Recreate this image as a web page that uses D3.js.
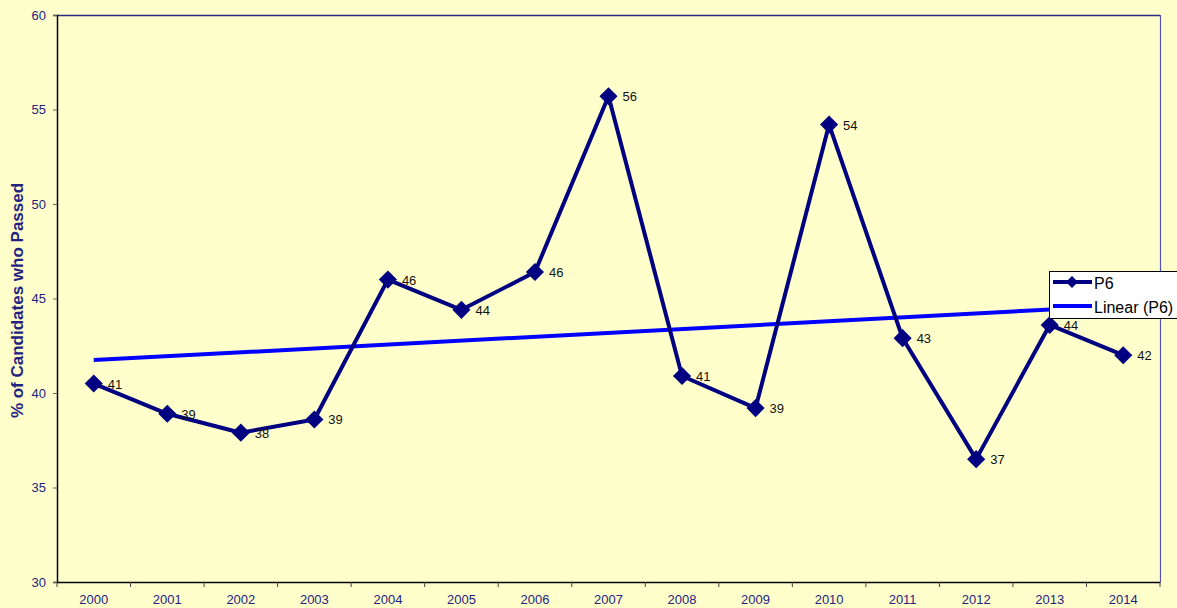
<!DOCTYPE html>
<html>
<head>
<meta charset="utf-8">
<script src="https://cdn.jsdelivr.net/npm/d3@7"></script>
<style>
  body { margin: 0; background: #FFFFCC; }
  svg { display: block; font-family: Arial, "Liberation Sans", sans-serif; }
</style>
</head>
<body>
<div id="chart"></div>
<script>
// data
var years = ["2000","2001","2002","2003","2004","2005","2006","2007","2008","2009","2010","2011","2012","2013","2014"];
var passed = [40.5, 38.9, 37.9, 38.6, 46.0, 44.4, 46.4, 55.7, 40.9, 39.2, 54.2, 42.9, 36.5, 43.6, 42.0];
var pointLabels = ["41","39","38","39","46","44","46","56","41","39","54","43","37","44","42"];
var yTicks = [30, 35, 40, 45, 50, 55, 60];

var W = 1177, H = 608;
var margin = {top: 15, right: 17, bottom: 26, left: 57},
    width = W - margin.left - margin.right,
    height = H - margin.top - margin.bottom;

var navy = "#000080", textNavy = "#23237F";

var svg = d3.select("#chart").append("svg")
    .attr("width", W)
    .attr("height", H)
    .style("background-color", "#FFFFCC");

var g = svg.append("g")
    .attr("transform", "translate(" + margin.left + "," + margin.top + ")");

var x = d3.scaleBand().domain(years).range([0, width]);
var y = d3.scaleLinear().domain([30, 60]).range([height, 0]);
var cx = function(d, i) { return x(years[i]) + x.bandwidth() / 2; };

// plot frame: top and right border
g.append("line").attr("x1", 0).attr("x2", width).attr("y1", 0.5).attr("y2", 0.5)
    .attr("stroke", "#2a2a8a").attr("stroke-width", 1.5);
g.append("line").attr("x1", width + 0.5).attr("x2", width + 0.5).attr("y1", 0).attr("y2", height)
    .attr("stroke", "#5555aa").attr("stroke-width", 1.2);

// y axis
var yAxis = g.append("g")
    .call(d3.axisLeft(y).tickValues(yTicks).tickSize(4).tickPadding(7));
yAxis.select(".domain").attr("stroke", "#000").attr("stroke-width", 1.5);
yAxis.selectAll(".tick line").attr("stroke", "#666");
yAxis.selectAll("text").attr("fill", textNavy).style("font-size", "13px");

// x axis with ticks on band boundaries
var xAxis = g.append("g")
    .attr("transform", "translate(0," + height + ")")
    .call(d3.axisBottom(x).tickSize(0).tickPadding(13));
xAxis.select(".domain").attr("stroke", "#000").attr("stroke-width", 1.5);
xAxis.selectAll("text").attr("fill", textNavy).style("font-size", "13px");
xAxis.selectAll(".bound")
    .data(years.concat(["end"]))
    .enter().append("line")
    .attr("class", "bound")
    .attr("x1", function(d, i) { return i * x.bandwidth(); })
    .attr("x2", function(d, i) { return i * x.bandwidth(); })
    .attr("y1", 0).attr("y2", 5)
    .attr("stroke", "#444");

// axis title
svg.append("text")
    .attr("text-anchor", "middle")
    .attr("transform", "translate(23," + (margin.top + height / 2 + 2) + ")rotate(-90)")
    .attr("fill", textNavy)
    .style("font-size", "17px")
    .style("font-weight", "bold")
    .text("% of Candidates who Passed");

// linear trend (least squares over the series)
var n = passed.length, mx = (n - 1) / 2, my = d3.mean(passed);
var sxy = d3.sum(passed, function(v, i) { return (i - mx) * (v - my); });
var sxx = d3.sum(passed, function(v, i) { return (i - mx) * (i - mx); });
var slope = sxy / sxx, icpt = my - slope * mx;
var trend = [0, n - 1].map(function(i) { return [i, icpt + slope * i]; });

g.append("path")
    .datum(trend)
    .attr("fill", "none")
    .attr("stroke", "#0000FF")
    .attr("stroke-width", 4)
    .attr("d", d3.line()
        .x(function(d) { return x(years[d[0]]) + x.bandwidth() / 2; })
        .y(function(d) { return y(d[1]); }));

// series line
g.append("path")
    .datum(passed)
    .attr("fill", "none")
    .attr("stroke", navy)
    .attr("stroke-width", 4)
    .attr("stroke-linejoin", "round")
    .attr("d", d3.line().x(cx).y(function(d) { return y(d); }));

var diamond = d3.symbol().type(d3.symbolDiamond2).size(210);
g.selectAll(".pt")
    .data(passed)
    .enter().append("path")
    .attr("class", "pt")
    .attr("d", diamond)
    .attr("fill", navy)
    .attr("transform", function(d, i) { return "translate(" + cx(d, i) + "," + y(d) + ")"; });

g.selectAll(".lbl")
    .data(passed)
    .enter().append("text")
    .attr("class", "lbl")
    .attr("x", function(d, i) { return cx(d, i) + 14; })
    .attr("y", function(d) { return y(d) + 5; })
    .attr("fill", "#111")
    .style("font-size", "13px")
    .text(function(d, i) { return pointLabels[i]; });

// legend
var lg = svg.append("g").attr("transform", "translate(1049,271)");
lg.append("rect").attr("x", 0.5).attr("y", 0.5).attr("width", 140).attr("height", 47)
    .attr("fill", "#fff").attr("stroke", "#000").attr("stroke-width", 1);
lg.append("line").attr("x1", 4).attr("x2", 43).attr("y1", 11).attr("y2", 11)
    .attr("stroke", navy).attr("stroke-width", 4);
lg.append("path").attr("d", d3.symbol().type(d3.symbolDiamond2).size(90))
    .attr("fill", navy).attr("transform", "translate(23,11)");
lg.append("text").attr("x", 45).attr("y", 18).style("font-size", "16px").attr("fill", "#000").text("P6");
lg.append("line").attr("x1", 4).attr("x2", 43).attr("y1", 35).attr("y2", 35)
    .attr("stroke", "#0000FF").attr("stroke-width", 4);
lg.append("text").attr("x", 45).attr("y", 42).style("font-size", "16px").attr("fill", "#000").text("Linear (P6)");
</script>
</body>
</html>
